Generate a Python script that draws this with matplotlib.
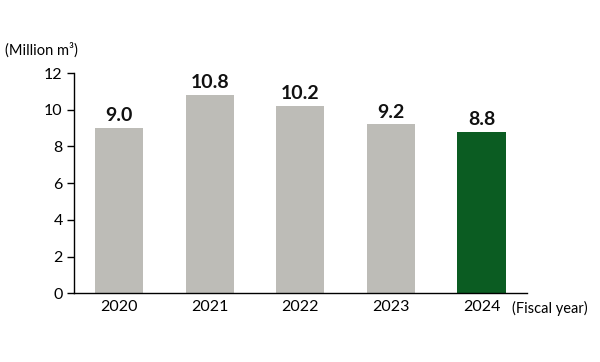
import matplotlib.pyplot as plt

years = ["2020", "2021", "2022", "2023", "2024"]
values = [9.0, 10.8, 10.2, 9.2, 8.8]
bar_colors = ["#bdbcb7", "#bdbcb7", "#bdbcb7", "#bdbcb7", "#0b5c22"]
y_ticks = [0, 2, 4, 6, 8, 10, 12]

plt.rcParams['font.family'] = ['Lato', 'DejaVu Sans']

fig = plt.figure(figsize=(6, 3.62), dpi=100)
ax = fig.add_axes([0.123, 0.19, 0.755, 0.608])

x = range(len(years))
ax.bar(x, values, width=0.53, color=bar_colors)
for i, v in enumerate(values):
    ax.text(i, v + 0.2, f"{v:.1f}", ha="center", va="bottom",
            fontsize=14, fontweight="bold", color="#111111")

ax.set_xlim(-0.5, 4.5)
ax.set_ylim(0, 12)
ax.set_yticks(y_ticks)
ax.set_xticks(list(x))
ax.set_xticklabels(years)
ax.tick_params(axis="y", labelsize=11.5, length=5, width=1, pad=3)
ax.tick_params(axis="x", labelsize=11.5, length=0, pad=5)
ax.spines["top"].set_visible(False)
ax.spines["right"].set_visible(False)
ax.spines["left"].set_linewidth(1)
ax.spines["bottom"].set_linewidth(1)

fig.text(0.008, 0.862, "(Million m³)", fontsize=10.5, ha="left", va="center")
fig.text(0.853, 0.148, "(Fiscal year)", fontsize=10.5, ha="left", va="center")

fig.savefig("out.png", dpi=100)
